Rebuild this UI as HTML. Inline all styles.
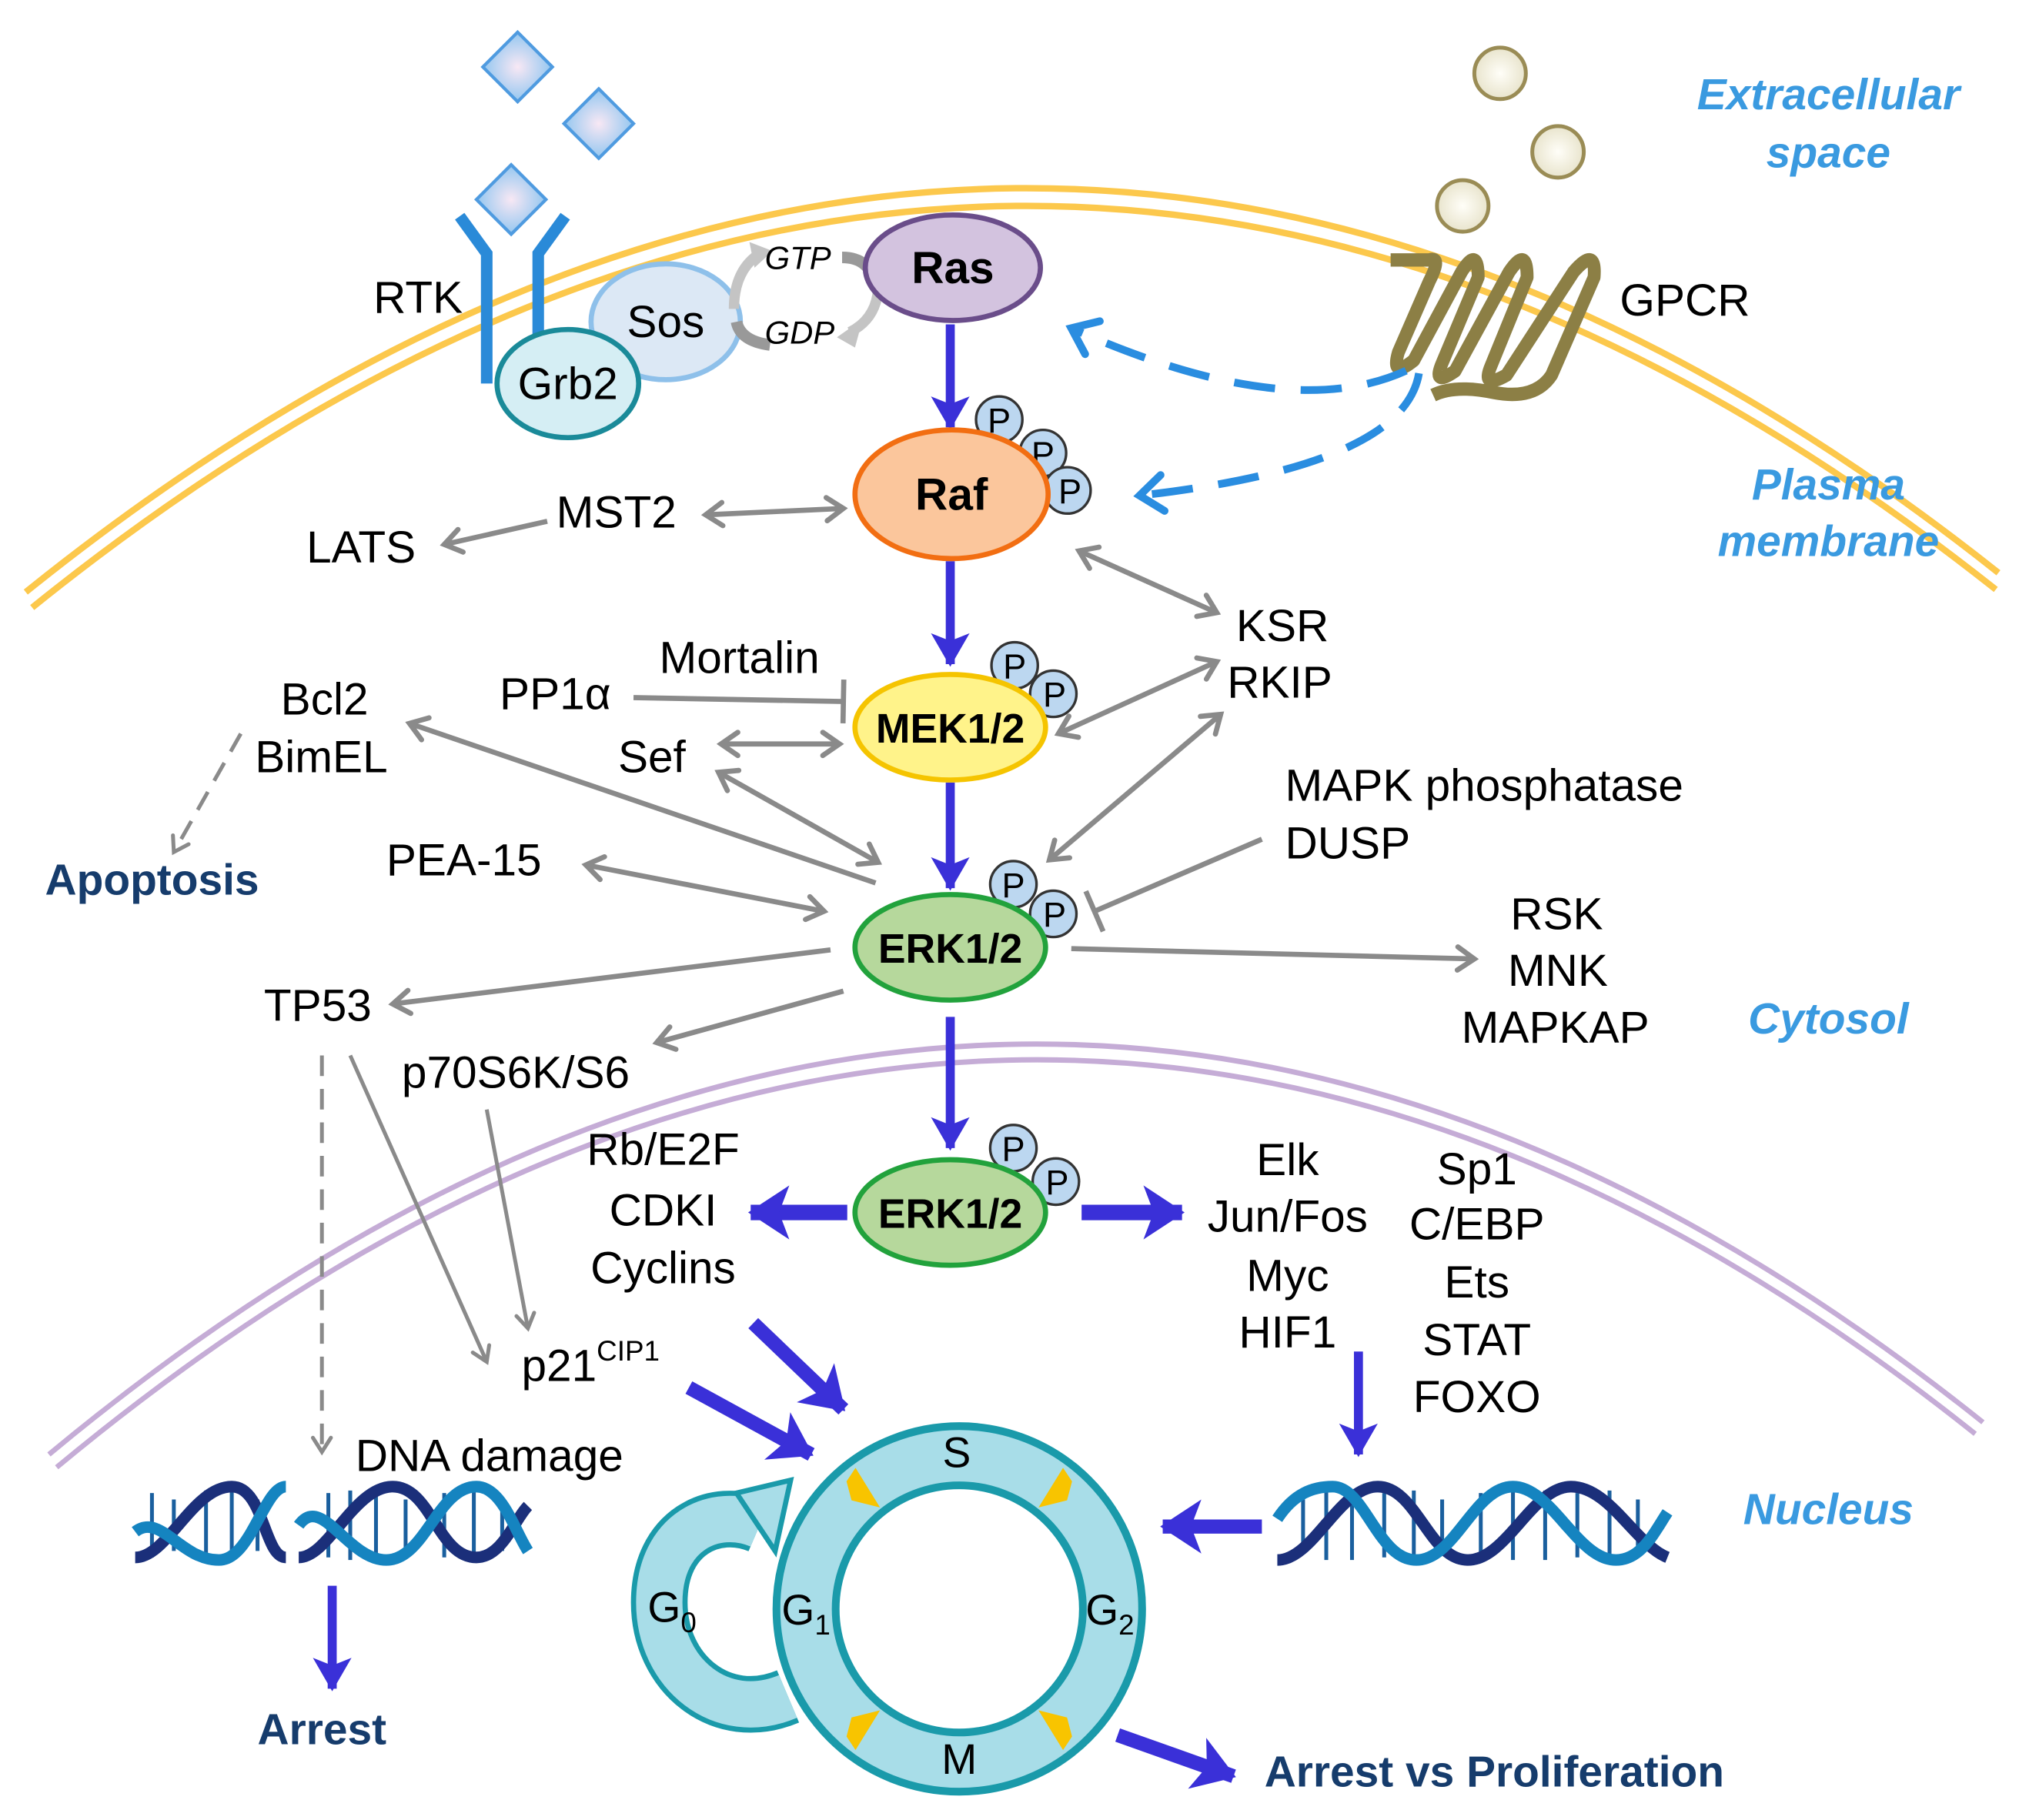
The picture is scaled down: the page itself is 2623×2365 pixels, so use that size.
<!DOCTYPE html>
<html><head><meta charset="utf-8"><style>
html,body{margin:0;padding:0;background:#fff;}
svg{display:block;}
text{font-family:"Liberation Sans",Arial,sans-serif;}
.k{fill:#000;}
.bl{fill:#3a9ae0;}
.nv{fill:#163c6c;}
</style></head><body>
<svg width="2623" height="2365" viewBox="0 0 1568 1414" preserveAspectRatio="none" xmlns="http://www.w3.org/2000/svg">
<defs>
<marker id="bh" markerUnits="userSpaceOnUse" markerWidth="40" markerHeight="40" refX="30" refY="20" orient="auto"><path d="M32,20 L6,5 L12,20 L6,35 Z" fill="#3a30d8"/></marker>
<marker id="bhb" markerUnits="userSpaceOnUse" markerWidth="50" markerHeight="50" refX="38" refY="25" orient="auto"><path d="M40,25 L8,4 L16,25 L8,46 Z" fill="#3a30d8"/></marker>
<marker id="ga" markerUnits="userSpaceOnUse" markerWidth="26" markerHeight="26" refX="18" refY="13" orient="auto-start-reverse"><path d="M5,4 L18,13 L5,22" fill="none" stroke="#8a8a8a" stroke-width="4" stroke-linecap="round"/></marker>
<marker id="gas" markerUnits="userSpaceOnUse" markerWidth="26" markerHeight="26" refX="18" refY="13" orient="auto-start-reverse"><path d="M7,6 L18,13 L7,20" fill="none" stroke="#8a8a8a" stroke-width="3" stroke-linecap="round"/></marker>
<marker id="da" markerUnits="userSpaceOnUse" markerWidth="40" markerHeight="40" refX="24" refY="20" orient="auto"><path d="M6,6 L24,20 L6,34" fill="none" stroke="#2a8de0" stroke-width="6" stroke-linecap="round"/></marker>
<marker id="bar" markerUnits="userSpaceOnUse" markerWidth="10" markerHeight="40" refX="5" refY="20" orient="auto"><path d="M5,3 L5,37" stroke="#8a8a8a" stroke-width="4"/></marker>
<radialGradient id="dg" cx="0.5" cy="0.5" r="0.6"><stop offset="0" stop-color="#f8e8f4"/><stop offset="1" stop-color="#7fc0ef"/></radialGradient>
<radialGradient id="bg" cx="0.5" cy="0.5" r="0.6"><stop offset="0" stop-color="#fffef8"/><stop offset="1" stop-color="#e4dfc4"/></radialGradient>
</defs>

<path d="M20,460 Q790,-160 1552,445" fill="none" stroke="#fcc84c" stroke-width="5"/>
<path d="M25,472 Q790,-145 1550,458" fill="none" stroke="#fcc84c" stroke-width="5"/>
<path d="M38,1130 Q790,505 1540,1105" fill="none" stroke="#c5acd6" stroke-width="4"/>
<path d="M44,1140 Q790,520 1534,1114" fill="none" stroke="#c5acd6" stroke-width="4"/>

<g stroke="#4f9be0" stroke-width="2.5" fill="url(#dg)">
<polygon points="402,25 429,52 402,79 375,52"/>
<polygon points="465,69 492,96 465,123 438,96"/>
<polygon points="397,128 424,155 397,182 370,155"/>
</g>
<g stroke="#2a8ad8" stroke-width="9" fill="none">
<path d="M378,298 V197 L357,168"/>
<path d="M418,298 V197 L439,168"/>
</g>
<text class="k" x="290" y="243" font-size="35">RTK</text>
<ellipse cx="517" cy="250" rx="58" ry="45" fill="#dce8f5" stroke="#8ec0ea" stroke-width="4"/>
<text class="k" x="517" y="262" font-size="35" text-anchor="middle">Sos</text>
<ellipse cx="441" cy="298" rx="55" ry="42" fill="#d5eef4" stroke="#1a8a99" stroke-width="4"/>
<text class="k" x="441" y="310" font-size="35" text-anchor="middle">Grb2</text>
<path d="M570,240 Q570,210 590,197" fill="none" stroke="#c4c4c4" stroke-width="8"/>
<polygon points="582,188 600,195 586,208" fill="#c4c4c4"/>
<path d="M572,250 Q575,265 598,268" fill="none" stroke="#999" stroke-width="9"/>
<path d="M654,200 Q676,200 680,222" fill="none" stroke="#999" stroke-width="9"/>
<path d="M682,225 Q680,248 660,258" fill="none" stroke="#c4c4c4" stroke-width="8"/>
<polygon points="670,248 650,262 664,270" fill="#c4c4c4"/>
<text class="k" x="594" y="209" font-size="25" font-style="italic">GTP</text>
<text class="k" x="594" y="267" font-size="25" font-style="italic">GDP</text>
<ellipse cx="740" cy="208" rx="68" ry="41" fill="#d3c3df" stroke="#6a4d8a" stroke-width="4"/>
<text class="k" x="740" y="220" font-size="35" font-weight="bold" text-anchor="middle">Ras</text>

<g fill="url(#bg)" stroke="#9a8c55" stroke-width="3">
<circle cx="1165" cy="57" r="20"/><circle cx="1210" cy="118" r="20"/><circle cx="1136" cy="160" r="20"/>
</g>
<path d="M1080,199 H1110 Q1120,196 1110,215 L1086,268 Q1080,288 1098,274 L1135,208 Q1148,188 1148,212 L1120,276 Q1112,294 1130,282 L1172,208 Q1186,188 1186,212 L1158,278 Q1150,296 1170,285 L1222,208 Q1240,188 1238,212 L1205,285 Q1192,304 1160,298 Q1130,292 1113,300" fill="none" stroke="#8c7f45" stroke-width="10" stroke-linejoin="round" transform="translate(0,-5) scale(1,1.04)"/>
<text class="k" x="1258" y="245" font-size="35">GPCR</text>
<path d="M1092,288 Q1000,330 832,255" fill="none" stroke="#2a8de0" stroke-width="6" stroke-dasharray="32,20" marker-end="url(#da)"/>
<path d="M1102,290 Q1090,362 885,385" fill="none" stroke="#2a8de0" stroke-width="6" stroke-dasharray="32,20" marker-end="url(#da)"/>

<g font-size="34" font-weight="bold" font-style="italic" text-anchor="middle">
<text class="bl" x="1420" y="85">Extracellular</text>
<text class="bl" x="1420" y="130">space</text>
<text class="bl" x="1420" y="388">Plasma</text>
<text class="bl" x="1420" y="432">membrane</text>
<text class="bl" x="1420" y="803">Cytosol</text>
<text class="bl" x="1420" y="1184">Nucleus</text>
</g>

<g stroke="#3a30d8" stroke-width="7" fill="none">
<line x1="738" y1="252" x2="738" y2="332" marker-end="url(#bh)"/>
<line x1="738" y1="436" x2="738" y2="516" marker-end="url(#bh)"/>
<line x1="738" y1="608" x2="738" y2="690" marker-end="url(#bh)"/>
<line x1="738" y1="790" x2="738" y2="892" marker-end="url(#bh)"/>
<line x1="658" y1="942" x2="583" y2="942" stroke-width="12" marker-end="url(#bhb)"/>
<line x1="840" y1="942" x2="918" y2="942" stroke-width="12" marker-end="url(#bhb)"/>
<line x1="585" y1="1028" x2="655" y2="1095" stroke-width="11" marker-end="url(#bhb)"/>
<line x1="535" y1="1078" x2="630" y2="1130" stroke-width="11" marker-end="url(#bhb)"/>
<line x1="1055" y1="1050" x2="1055" y2="1130" stroke-width="7" marker-end="url(#bh)"/>
<line x1="980" y1="1186" x2="903" y2="1186" stroke-width="11" marker-end="url(#bhb)"/>
<line x1="258" y1="1232" x2="258" y2="1312" stroke-width="7" marker-end="url(#bh)"/>
<line x1="868" y1="1348" x2="958" y2="1380" stroke-width="11" marker-end="url(#bhb)"/>
</g>

<g stroke="#8a8a8a" stroke-width="4" fill="none">
<line x1="548" y1="400" x2="655" y2="395" marker-start="url(#ga)" marker-end="url(#ga)"/>
<line x1="425" y1="405" x2="345" y2="423" marker-end="url(#ga)"/>
<line x1="838" y1="428" x2="945" y2="476" marker-start="url(#ga)" marker-end="url(#ga)"/>
<line x1="945" y1="514" x2="822" y2="570" marker-start="url(#ga)" marker-end="url(#ga)"/>
<line x1="948" y1="555" x2="815" y2="668" marker-start="url(#ga)" marker-end="url(#ga)"/>
<line x1="492" y1="542" x2="655" y2="545" marker-end="url(#bar)"/>
<line x1="560" y1="578" x2="652" y2="578" marker-start="url(#ga)" marker-end="url(#ga)"/>
<line x1="558" y1="600" x2="682" y2="670" marker-start="url(#ga)" marker-end="url(#ga)"/>
<line x1="318" y1="562" x2="680" y2="686" marker-start="url(#ga)"/>
<line x1="455" y1="672" x2="640" y2="708" marker-start="url(#ga)" marker-end="url(#ga)"/>
<line x1="980" y1="652" x2="850" y2="708" marker-end="url(#bar)"/>
<line x1="832" y1="737" x2="1145" y2="745" marker-end="url(#ga)"/>
<line x1="645" y1="738" x2="305" y2="780" marker-end="url(#ga)"/>
<line x1="655" y1="770" x2="510" y2="810" marker-end="url(#ga)"/>
<line x1="250" y1="820" x2="250" y2="1128" stroke-width="3" stroke-dasharray="16,10" marker-end="url(#gas)"/>
<line x1="187" y1="570" x2="135" y2="662" stroke-width="3" stroke-dasharray="16,10" marker-end="url(#gas)"/>
<line x1="272" y1="820" x2="378" y2="1058" stroke-width="3" marker-end="url(#gas)"/>
<line x1="378" y1="862" x2="410" y2="1032" stroke-width="3" marker-end="url(#gas)"/>
</g>

<circle cx="776" cy="326" r="18" fill="#bcd7f0" stroke="#333" stroke-width="2"/>
<circle cx="810" cy="352" r="18" fill="#bcd7f0" stroke="#333" stroke-width="2"/>
<circle cx="829" cy="381" r="18" fill="#bcd7f0" stroke="#333" stroke-width="2"/>
<g font-size="27" text-anchor="middle"><text class="k" x="776" y="336">P</text><text class="k" x="810" y="362">P</text><text class="k" x="831" y="391">P</text></g>
<ellipse cx="739" cy="384" rx="75" ry="50" fill="#fbc69c" stroke="#f26e12" stroke-width="4"/>
<text class="k" x="739" y="396" font-size="35" font-weight="bold" text-anchor="middle">Raf</text>
<circle cx="788" cy="517" r="18" fill="#bcd7f0" stroke="#333" stroke-width="2"/>
<circle cx="818" cy="539" r="18" fill="#bcd7f0" stroke="#333" stroke-width="2"/>
<g font-size="27" text-anchor="middle"><text class="k" x="788" y="527">P</text><text class="k" x="819" y="549">P</text></g>
<ellipse cx="738" cy="565" rx="74" ry="41" fill="#fff38a" stroke="#f5c400" stroke-width="4"/>
<text class="k" x="738" y="577" font-size="32" font-weight="bold" text-anchor="middle">MEK1/2</text>
<circle cx="787" cy="687" r="18" fill="#bcd7f0" stroke="#333" stroke-width="2"/>
<circle cx="818" cy="710" r="18" fill="#bcd7f0" stroke="#333" stroke-width="2"/>
<g font-size="27" text-anchor="middle"><text class="k" x="787" y="697">P</text><text class="k" x="819" y="720">P</text></g>
<ellipse cx="738" cy="736" rx="74" ry="41" fill="#b6d89c" stroke="#22a23c" stroke-width="4"/>
<text class="k" x="738" y="748" font-size="32" font-weight="bold" text-anchor="middle">ERK1/2</text>
<circle cx="787" cy="892" r="18" fill="#bcd7f0" stroke="#333" stroke-width="2"/>
<circle cx="820" cy="918" r="18" fill="#bcd7f0" stroke="#333" stroke-width="2"/>
<g font-size="27" text-anchor="middle"><text class="k" x="787" y="902">P</text><text class="k" x="821" y="928">P</text></g>
<ellipse cx="738" cy="942" rx="74" ry="41" fill="#b6d89c" stroke="#22a23c" stroke-width="4"/>
<text class="k" x="738" y="954" font-size="32" font-weight="bold" text-anchor="middle">ERK1/2</text>

<g font-size="35">
<text class="k" x="432" y="410">MST2</text>
<text class="k" x="238" y="437">LATS</text>
<text class="k" x="960" y="498">KSR</text>
<text class="k" x="953" y="542">RKIP</text>
<text class="k" x="512" y="523">Mortalin</text>
<text class="k" x="388" y="551">PP1α</text>
<text class="k" x="480" y="600">Sef</text>
<text class="k" x="218" y="555">Bcl2</text>
<text class="k" x="198" y="600">BimEL</text>
<text class="k" x="300" y="680">PEA-15</text>
<text class="k" x="998" y="622">MAPK phosphatase</text>
<text class="k" x="998" y="667">DUSP</text>
<text class="k" x="1173" y="722">RSK</text>
<text class="k" x="1171" y="766">MNK</text>
<text class="k" x="1135" y="810">MAPKAP</text>
<text class="k" x="205" y="793">TP53</text>
<text class="k" x="312" y="845">p70S6K/S6</text>
<text class="k" x="515" y="905" text-anchor="middle">Rb/E2F</text>
<text class="k" x="515" y="952" text-anchor="middle">CDKI</text>
<text class="k" x="515" y="997" text-anchor="middle">Cyclins</text>
<text class="k" x="1000" y="913" text-anchor="middle">Elk</text>
<text class="k" x="1000" y="957" text-anchor="middle">Jun/Fos</text>
<text class="k" x="1000" y="1003" text-anchor="middle">Myc</text>
<text class="k" x="1000" y="1047" text-anchor="middle">HIF1</text>
<text class="k" x="1147" y="920" text-anchor="middle">Sp1</text>
<text class="k" x="1147" y="963" text-anchor="middle">C/EBP</text>
<text class="k" x="1147" y="1008" text-anchor="middle">Ets</text>
<text class="k" x="1147" y="1053" text-anchor="middle">STAT</text>
<text class="k" x="1147" y="1097" text-anchor="middle">FOXO</text>
<text class="k" x="405" y="1073">p21<tspan font-size="22" dy="-16">CIP1</tspan></text>
<text class="k" x="276" y="1143">DNA damage</text>
</g>
<g font-size="34" font-weight="bold">
<text class="nv" x="35" y="695">Apoptosis</text>
<text class="nv" x="200" y="1355">Arrest</text>
<text class="nv" x="982" y="1388">Arrest vs Proliferation</text>
</g>

<g fill="none">
<g stroke="#1a5f9e" stroke-width="3">
<path d="M118,1160 V1210 M135,1165 V1205 M160,1158 V1212 M180,1158 V1212 M200,1165 V1205 M255,1160 V1210 M272,1158 V1212 M292,1158 V1212 M315,1165 V1205 M345,1160 V1210 M368,1158 V1212 M390,1165 V1205"/>
</g>
<path d="M105,1210 C130,1210 150,1155 180,1155 C205,1155 205,1210 222,1210" stroke="#1b2f7a" stroke-width="9"/>
<path d="M105,1190 C125,1175 140,1212 170,1212 C195,1212 205,1155 222,1155" stroke="#1584c0" stroke-width="9"/>
<path d="M232,1210 C255,1210 275,1155 305,1155 C335,1155 340,1210 370,1210 C390,1210 400,1180 410,1170" stroke="#1b2f7a" stroke-width="9"/>
<path d="M232,1185 C250,1160 270,1212 300,1212 C330,1212 340,1155 370,1155 C390,1155 400,1190 410,1205" stroke="#1584c0" stroke-width="9"/>
</g>
<g fill="none">
<g stroke="#1a5f9e" stroke-width="3">
<path d="M1012,1165 V1205 M1030,1158 V1212 M1050,1158 V1212 M1075,1160 V1210 M1098,1158 V1212 M1120,1165 V1205 M1150,1160 V1210 M1175,1158 V1212 M1200,1158 V1212 M1225,1160 V1210 M1250,1158 V1212 M1272,1165 V1205"/>
</g>
<path d="M992,1212 C1020,1212 1040,1155 1070,1155 C1100,1155 1110,1212 1140,1212 C1170,1212 1190,1155 1220,1155 C1250,1155 1270,1200 1295,1210" stroke="#1b2f7a" stroke-width="9"/>
<path d="M992,1180 C1005,1160 1020,1155 1035,1155 C1060,1155 1070,1212 1100,1212 C1130,1212 1145,1155 1175,1155 C1205,1155 1225,1212 1255,1212 C1275,1212 1285,1190 1295,1175" stroke="#1584c0" stroke-width="9"/>
</g>

<path d="M612,1318 C560,1340 512,1300 512,1245 C512,1190 555,1170 590,1185" fill="none" stroke="#1a9aaa" stroke-width="44"/>
<path d="M612,1318 C560,1340 512,1300 512,1245 C512,1190 555,1170 590,1185" fill="none" stroke="#a8dde8" stroke-width="36"/>
<polygon points="572,1160 614,1150 602,1205" fill="#a8dde8" stroke="#1a9aaa" stroke-width="4"/>
<circle cx="745" cy="1250" r="119" fill="none" stroke="#1a9aaa" stroke-width="52"/>
<circle cx="745" cy="1250" r="119" fill="none" stroke="#a8dde8" stroke-width="40"/>
<g fill="#f8c400">
<g transform="translate(745,1250) rotate(-52)"><polygon points="100,0 136,-4 132,8 118,14"/></g>
<g transform="translate(745,1250) rotate(-128)"><polygon points="100,0 136,4 132,-8 118,-14"/></g>
<g transform="translate(745,1250) rotate(128)"><polygon points="100,0 136,-4 132,8 118,14"/></g>
<g transform="translate(745,1250) rotate(52)"><polygon points="100,0 136,4 132,-8 118,-14"/></g>
</g>
<g font-size="33">
<text class="k" x="743" y="1140" text-anchor="middle">S</text>
<text class="k" x="745" y="1378" text-anchor="middle">M</text>
<text class="k" x="607" y="1262">G<tspan font-size="22" dy="8">1</tspan></text>
<text class="k" x="843" y="1262">G<tspan font-size="22" dy="8">2</tspan></text>
<text class="k" x="503" y="1260">G<tspan font-size="22" dy="8">0</tspan></text>
</g>
</svg>
</body></html>
